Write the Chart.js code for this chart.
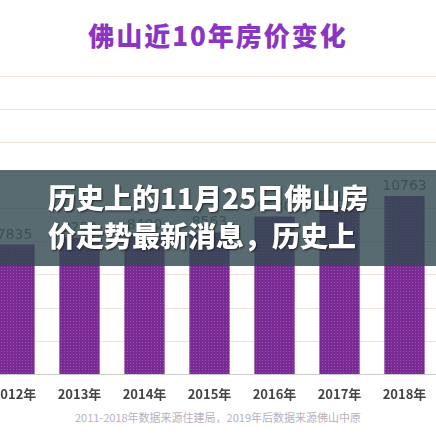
<!DOCTYPE html>
<html>
<head>
<meta charset="utf-8">
<script src="https://cdn.jsdelivr.net/npm/chart.js@4"></script>
<style>
  body { margin: 0; width: 436px; height: 436px; overflow: hidden; background: #fff; position: relative; font-family: "Noto Sans CJK SC", sans-serif; }
  #title { position: absolute; top: 16px; left: 0; width: 436px; text-align: center; color: #8a35c4; font-size: 26px; font-weight: 900; letter-spacing: 2px; }
  #wrap { position: absolute; left: -83px; top: 60px; width: 520px; height: 346px; }
  #band { position: absolute; left: 0; top: 170px; width: 436px; height: 96px; background: rgba(50, 75, 82, 0.82); }
  #band div { color: #fff; font-weight: 900; font-size: 28px; line-height: 38px; padding-left: 48px; padding-top: 8px; text-shadow: 1px 1px 2px #222; }
  #source { position: absolute; top: 409px; left: 0; width: 436px; text-align: center; color: #b9b0bd; font-size: 11px; }
</style>
</head>
<body>
<div id="title">佛山近10年房价变化</div>
<div id="wrap"><canvas id="priceChart" width="520" height="346"></canvas></div>
<div id="band"><div>历史上的11月25日佛山房<br>价走势最新消息，历史上</div></div>
<div id="source">2011-2018年数据来源住建局，2019年后数据来源佛山中原</div>
<script>
const years = ['2011年', '2012年', '2013年', '2014年', '2015年', '2016年', '2017年', '2018年'];
const prices = [7300, 7835, 8250, 8400, 8563, 9520, 10101, 10763];

// dotted purple fill like the source picture
function dotPattern() {
  const c = document.createElement('canvas');
  c.width = 3; c.height = 3;
  const g = c.getContext('2d');
  g.fillStyle = '#7a2a93';
  g.fillRect(0, 0, 3, 3);
  g.fillStyle = '#9a55b0';
  g.fillRect(0, 0, 1, 1);
  return g.createPattern(c, 'repeat');
}

const labelPlugin = {
  id: 'valueLabels',
  afterDatasetsDraw(chart) {
    const ctx = chart.ctx;
    ctx.save();
    ctx.fillStyle = '#666';
    ctx.font = '14px "DejaVu Sans", sans-serif';
    ctx.textAlign = 'center';
    chart.getDatasetMeta(0).data.forEach((bar, i) => {
      ctx.fillText(prices[i], bar.x, bar.y - 6);
    });
    ctx.restore();
  }
};

new Chart(document.getElementById('priceChart').getContext('2d'), {
  type: 'bar',
  data: {
    labels: years,
    datasets: [{ data: prices, backgroundColor: dotPattern(), barPercentage: 0.62, categoryPercentage: 1 }]
  },
  options: {
    responsive: false,
    animation: false,
    layout: { padding: { top: 16, left: 0, right: 0, bottom: 0 } },
    plugins: { legend: { display: false }, tooltip: { enabled: false } },
    scales: {
      x: {
        grid: { display: false },
        border: { color: '#ccc' },
        ticks: { color: '#444', font: { size: 13, weight: 'bold', family: '"Noto Sans CJK SC"' }, padding: 4 }
      },
      y: {
        display: true,
        min: 0, max: 18000,
        ticks: { display: false, stepSize: 2000 },
        border: { display: false },
        grid: { color: '#efe2da', drawTicks: false }
      }
    }
  },
  plugins: [labelPlugin]
});
</script>
</body>
</html>
